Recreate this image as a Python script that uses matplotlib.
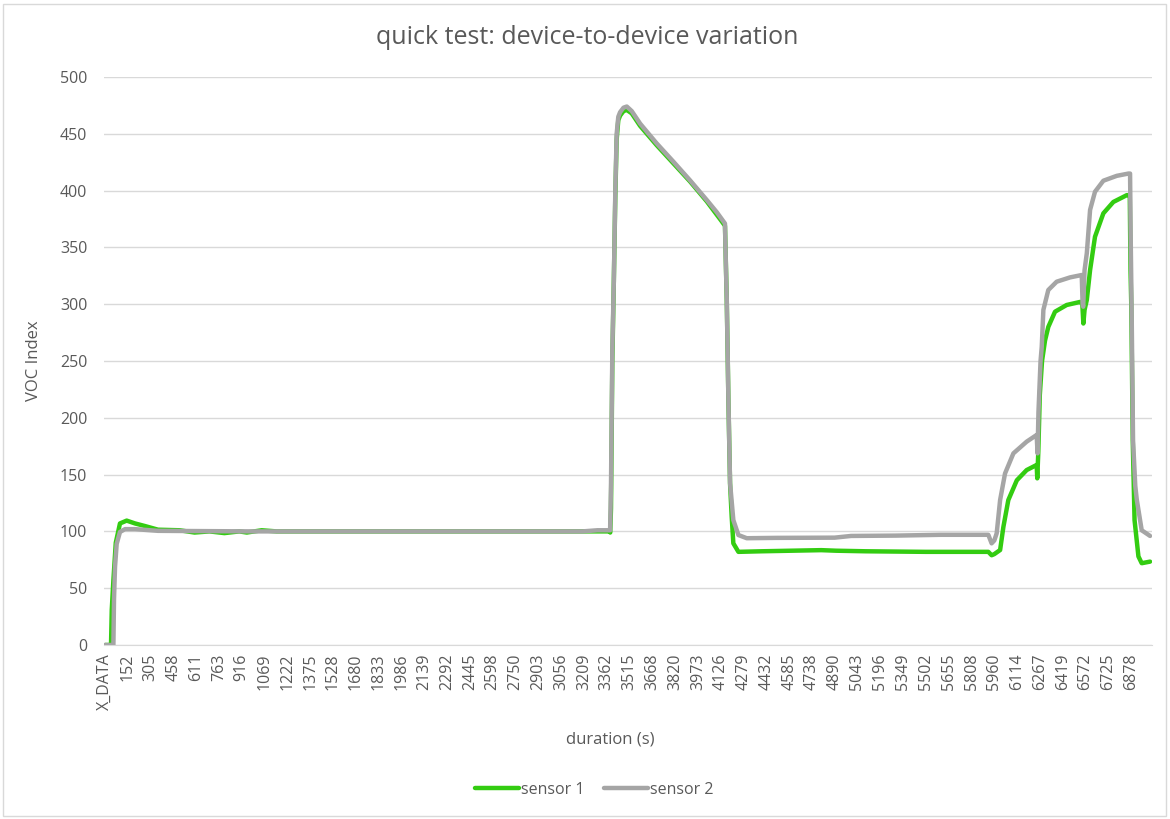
import matplotlib
matplotlib.use("Agg")
import matplotlib.pyplot as plt
from matplotlib.patches import Rectangle

plt.rcParams['font.family'] = ['Open Sans', 'DejaVu Sans']

# duration (s) / VOC index
t1 = [0, 40, 45, 56, 72, 100, 145, 201, 268, 355, 500, 600, 700, 800, 900, 950, 1050,
      1150, 3380, 3386, 3391, 3400, 3410, 3420, 3429, 3440, 3452, 3475, 3497, 3530, 3586,
      3697, 3809, 3921, 4033, 4133, 4155, 4167, 4178, 4189, 4200, 4211, 4245, 4400, 4600,
      4800, 4900, 5100, 5500, 5920, 5942, 5960, 5999, 6021, 6054, 6111, 6177, 6244, 6248,
      6255, 6265, 6280, 6300, 6322, 6367, 6445, 6535, 6550, 6557, 6565, 6580, 6602, 6635,
      6691, 6758, 6848, 6868, 6873, 6878, 6888, 6900, 6926, 6948, 7004]
v1 = [0, 0, 31, 57, 90, 107, 109.5, 107, 104.7, 101.5, 101, 99, 100, 98.5, 100, 99, 101,
      100, 100, 99, 120, 250, 320, 395, 445, 462, 466, 470, 471, 468, 457,
      440, 424, 408, 390.5, 373, 369, 303, 215, 142, 113, 89.5, 82, 82.5, 83,
      83.5, 83, 82.5, 82, 82, 79, 80, 83.6, 104, 127.6, 145, 154, 158.5, 146.7,
      170, 220, 250, 268, 280, 293.4, 299.3, 302, 300, 283, 295, 303.7, 330, 359.4,
      380, 390, 396, 396, 330, 300, 180, 110, 78, 72, 73.4]

t2 = [0, 56, 60, 67, 78, 100, 134, 200, 355, 600, 1000, 3200, 3300, 3385, 3391, 3400,
      3410, 3420, 3429, 3440, 3452, 3475, 3497, 3530, 3586, 3697, 3809, 3921, 4033, 4100,
      4133, 4155, 4160, 4167, 4178, 4189, 4211, 4245, 4301, 4500, 4890, 5000, 5300, 5600,
      5920, 5942, 5960, 5976, 5999, 6032, 6088, 6177, 6244, 6250, 6256, 6270, 6278, 6289,
      6322, 6378, 6468, 6546, 6552, 6556, 6565, 6580, 6602, 6635, 6691, 6781, 6859, 6870,
      6875, 6880, 6890, 6905, 6915, 6948, 6993, 7004]
v2 = [0, 0, 40, 69, 89, 99.5, 102, 102, 100.5, 100.3, 100, 100, 101, 101, 140, 260,
      320, 400, 450, 465, 469, 473, 474, 470, 459, 441.6, 425.5, 409, 391.7, 381,
      375, 371, 340, 303.7, 215.7, 142.6, 110, 96.8, 94, 94.3, 94.5, 96, 96.3, 97,
      97, 89.5, 92, 98.3, 127.6, 151, 168.7, 179, 184.9, 168.7, 205, 250, 262.5, 295,
      312.5, 319.8, 323.6, 325.7, 300, 297.8, 330, 344.8, 383, 399, 408.7, 413, 415, 415,
      350, 300, 180, 140, 128, 101, 97, 96]

tick_vals = [0, 152, 305, 458, 611, 763, 916, 1069, 1222, 1375, 1528, 1680, 1833, 1986,
             2139, 2292, 2445, 2598, 2750, 2903, 3056, 3209, 3362, 3515, 3668, 3820, 3973,
             4126, 4279, 4432, 4585, 4738, 4890, 5043, 5196, 5349, 5502, 5655, 5808, 5960,
             6114, 6267, 6419, 6572, 6725, 6878]
tick_labels = ['X_DATA'] + [str(v) for v in tick_vals[1:]]

txt = '#595959'
fig = plt.figure(figsize=(11.7, 8.19), dpi=100)
ax = fig.add_axes([104 / 1170, 1 - 645 / 819, (1152 - 104) / 1170, (645 - 77) / 819])

ax.plot(t1, v1, color='#33CC11', lw=3.2, label='sensor 1', solid_capstyle='round')
ax.plot(t2, v2, color='#A5A5A5', lw=3.2, label='sensor 2', solid_capstyle='round')

ax.set_xlim(-7, 7017)
ax.set_ylim(0, 500)
ax.set_yticks(range(0, 501, 50))
ax.set_xticks(tick_vals)
ax.set_xticklabels(tick_labels, rotation=90)
ax.tick_params(axis='both', length=0, colors=txt, labelsize=11.5)
ax.tick_params(axis='y', pad=12)
ax.tick_params(axis='x', pad=6)
ax.grid(axis='y', color='#D9D9D9', lw=1)
ax.set_axisbelow(True)
for s in ['top', 'right', 'left']:
    ax.spines[s].set_visible(False)
ax.spines['bottom'].set_color('#D9D9D9')

ax.set_ylabel('VOC Index', color=txt, fontsize=12)
ax.yaxis.set_label_coords(-0.059, 0.5)
fig.text(610 / 1170, 1 - 739 / 819, 'duration (s)', color=txt, fontsize=12,
         ha='center', va='center')
fig.text(587 / 1170, 1 - 37 / 819, 'quick test: device-to-device variation', color=txt,
         fontsize=18, ha='center', va='center')

fig.legend(loc='center', bbox_to_anchor=(594 / 1170, 1 - 790 / 819), ncol=2,
           frameon=False, handlelength=2.8, handletextpad=0.1, columnspacing=1.2,
           labelcolor=txt, fontsize=11.5)

fig.patches.append(Rectangle((3 / 1170, 3 / 819), 1163 / 1170, 812 / 819,
                             transform=fig.transFigure, fill=False,
                             edgecolor='#D9D9D9', lw=1))

fig.savefig('out.png', dpi=100)
